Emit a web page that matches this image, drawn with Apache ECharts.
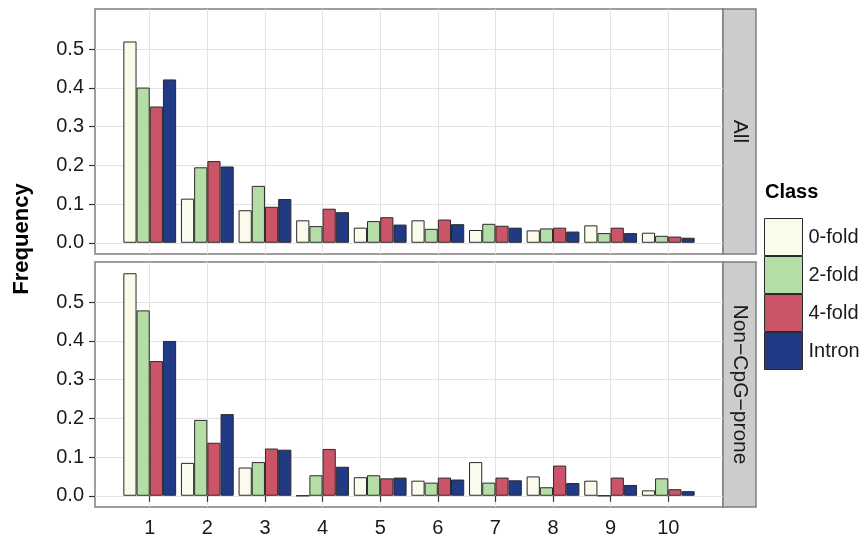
<!DOCTYPE html>
<html>
<head>
<meta charset="utf-8">
<script src="https://cdn.jsdelivr.net/npm/echarts@6/dist/echarts.min.js"></script>
<style>html,body{margin:0;padding:0;background:#fff}#c{width:865px;height:541px}</style>
</head>
<body>
<div id="c"></div>
<script>
const categories = [1, 2, 3, 4, 5, 6, 7, 8, 9, 10];
const classes = ['0-fold', '2-fold', '4-fold', 'Intron'];
const panels = ['All', 'Non\u2212CpG\u2212prone'];
const yTicks = [0, 0.1, 0.2, 0.3, 0.4, 0.5];

const all0fold  = [0.520, 0.114, 0.084, 0.058, 0.039, 0.058, 0.033, 0.032, 0.045, 0.026];
const all2fold  = [0.401, 0.195, 0.147, 0.043, 0.056, 0.036, 0.049, 0.037, 0.025, 0.018];
const all4fold  = [0.352, 0.211, 0.093, 0.088, 0.066, 0.060, 0.044, 0.039, 0.039, 0.016];
const allIntron = [0.422, 0.197, 0.113, 0.079, 0.047, 0.048, 0.039, 0.029, 0.025, 0.013];

const non0fold  = [0.575, 0.085, 0.073, 0.000, 0.048, 0.039, 0.087, 0.050, 0.039, 0.014];
const non2fold  = [0.479, 0.196, 0.087, 0.053, 0.053, 0.034, 0.034, 0.022, 0.000, 0.045];
const non4fold  = [0.348, 0.137, 0.122, 0.121, 0.045, 0.047, 0.047, 0.078, 0.047, 0.017];
const nonIntron = [0.400, 0.211, 0.119, 0.075, 0.047, 0.042, 0.040, 0.033, 0.028, 0.012];

const colors = ['#FAFBEA', '#B5DEA6', '#CC5468', '#213A85'];
const panelData = [
  [all0fold, all2fold, all4fold, allIntron],
  [non0fold, non2fold, non4fold, nonIntron]
];

const FONT = 'Liberation Sans, Arial, Helvetica, sans-serif';
const gridTops = [9, 262];
const gridH = 245;
const gridLeft = 95, gridRight = 723;

const grids = gridTops.map(t => ({
  left: gridLeft, top: t, width: gridRight - gridLeft, height: gridH,
  show: true, backgroundColor: '#ffffff', borderColor: '#7f7f7f', borderWidth: 1.5
}));

const xAxes = gridTops.map((t, i) => ({
  type: 'value', gridIndex: i, min: 0.05, max: 10.95,
  axisLine: { show: false },
  axisTick: { show: i === 1, customValues: categories, length: 6, lineStyle: { color: '#333', width: 1.2 } },
  axisLabel: { show: i === 1, customValues: categories, fontSize: 20, color: '#1a1a1a', fontFamily: FONT, margin: 11 },
  splitLine: { show: true, lineStyle: { color: '#e3e3e3', width: 1 } }
}));

const yAxes = gridTops.map((t, i) => ({
  type: 'value', gridIndex: i, min: -0.029, max: 0.604,
  axisLine: { show: false },
  axisTick: { show: true, customValues: yTicks, length: 6, lineStyle: { color: '#333', width: 1.2 } },
  axisLabel: { customValues: yTicks, fontSize: 20, color: '#1a1a1a', fontFamily: FONT, margin: 11,
               formatter: v => v.toFixed(1) },
  splitLine: { show: true, lineStyle: { color: '#e3e3e3', width: 1 } }
}));

const series = [];
panelData.forEach((arrs, p) => {
  arrs.forEach((vals, k) => {
    series.push({
      type: 'bar', name: classes[k], xAxisIndex: p, yAxisIndex: p,
      data: categories.map((c, j) => [c, vals[j]]),
      barWidth: 13.2, barGap: '0%',
      itemStyle: { color: colors[k], borderColor: '#2a2a2a', borderWidth: 1 },
      emphasis: { disabled: true },
      animation: false
    });
  });
});

const graphics = [];
gridTops.forEach((t, i) => {
  graphics.push({
    type: 'rect', shape: { x: gridRight, y: t, width: 33, height: gridH },
    style: { fill: '#cccccc', stroke: '#7f7f7f', lineWidth: 1.5 }, silent: true
  });
  graphics.push({
    type: 'text', x: gridRight + 16.5, y: t + gridH / 2, rotation: -Math.PI / 2,
    style: { text: panels[i], font: '21px ' + FONT, fill: '#1a1a1a', align: 'center', verticalAlign: 'middle' },
    silent: true
  });
});
graphics.push({
  type: 'text', x: 22, y: 239, rotation: Math.PI / 2,
  style: { text: 'Frequency', font: 'bold 22px ' + FONT, fill: '#000', align: 'center', verticalAlign: 'middle' },
  silent: true
});

const chart = echarts.init(document.getElementById('c'), null, { renderer: 'canvas' });
chart.setOption({
  animation: false,
  backgroundColor: '#ffffff',
  title: { text: 'Class', left: 765, top: 182, padding: 0,
           textStyle: { fontSize: 20, fontWeight: 'bold', color: '#000', fontFamily: FONT } },
  legend: {
    data: classes, orient: 'vertical', left: 764, top: 218,
    itemWidth: 38, itemHeight: 37, itemGap: 0, icon: 'rect', padding: 0,
    selectedMode: false,
    itemStyle: { borderColor: '#2a2a2a', borderWidth: 1 },
    textStyle: { fontSize: 20, color: '#1a1a1a', fontFamily: FONT, padding: [0, 0, 0, 1] }
  },
  grid: grids,
  xAxis: xAxes,
  yAxis: yAxes,
  series: series,
  graphic: graphics
});
</script>
</body>
</html>
